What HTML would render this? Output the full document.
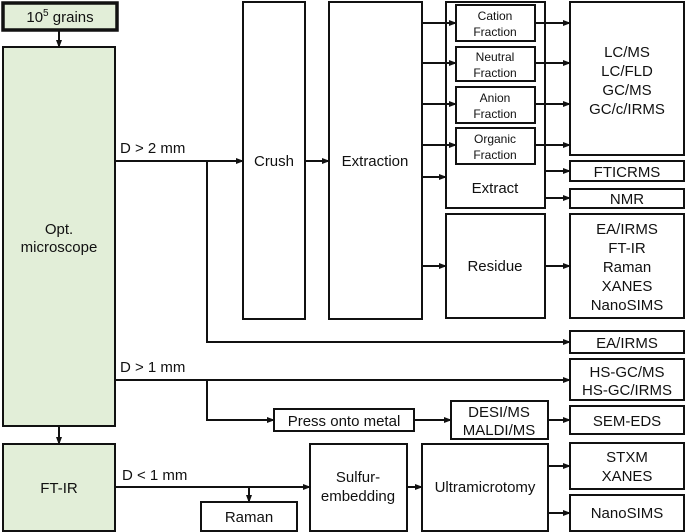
<!DOCTYPE html>
<html><head><meta charset="utf-8"><style>
html,body{margin:0;padding:0;background:#fff}
svg{display:block}
text{font-family:"Liberation Sans",Arial,sans-serif;fill:#111;text-anchor:middle}
</style></head><body>
<svg width="685" height="532" viewBox="0 0 685 532" xmlns="http://www.w3.org/2000/svg">
<defs><marker id="a" markerWidth="8" markerHeight="8" refX="7" refY="4" orient="auto" markerUnits="userSpaceOnUse"><path d="M0,1 L8,4 L0,7 z" fill="#111"/></marker></defs>
<g fill="none" stroke="#111" stroke-width="2">
<rect x="3" y="3" width="114" height="27" fill="#e2eed8" stroke-width="3.5"/>
<rect x="3" y="47" width="112" height="379" fill="#e2eed8"/>
<rect x="3" y="444" width="112" height="87" fill="#e2eed8"/>
<rect x="243" y="2" width="62" height="317"/>
<rect x="329" y="2" width="93" height="317"/>
<rect x="446" y="2" width="99" height="206"/>
<rect x="456" y="5" width="79" height="36"/>
<rect x="456" y="47" width="79" height="34"/>
<rect x="456" y="87" width="79" height="36"/>
<rect x="456" y="128" width="79" height="36"/>
<rect x="446" y="214" width="99" height="104"/>
<rect x="570" y="2" width="114" height="153"/>
<rect x="570" y="161" width="114" height="20"/>
<rect x="570" y="189" width="114" height="19"/>
<rect x="570" y="214" width="114" height="104"/>
<rect x="570" y="331" width="114" height="22"/>
<rect x="570" y="359" width="114" height="41"/>
<rect x="570" y="406" width="114" height="28"/>
<rect x="570" y="443" width="114" height="46"/>
<rect x="570" y="495" width="114" height="36"/>
<rect x="274" y="409" width="140" height="22"/>
<rect x="451" y="401" width="97" height="38"/>
<rect x="310" y="444" width="97" height="87"/>
<rect x="422" y="444" width="126" height="87"/>
<rect x="201" y="502" width="96" height="29"/>
</g>
<g fill="none" stroke="#111" stroke-width="2" marker-end="url(#a)">
<line x1="59" y1="30" x2="59" y2="47"/>
<line x1="59" y1="426" x2="59" y2="444"/>
<line x1="115" y1="161" x2="243" y2="161"/>
<line x1="305" y1="161" x2="329" y2="161"/>
<path d="M207,161 V342 H570"/>
<line x1="422" y1="23" x2="456" y2="23"/>
<line x1="422" y1="63" x2="456" y2="63"/>
<line x1="422" y1="104" x2="456" y2="104"/>
<line x1="422" y1="145" x2="456" y2="145"/>
<line x1="422" y1="177" x2="446" y2="177"/>
<line x1="422" y1="266" x2="446" y2="266"/>
<line x1="535" y1="23" x2="570" y2="23"/>
<line x1="535" y1="63" x2="570" y2="63"/>
<line x1="535" y1="104" x2="570" y2="104"/>
<line x1="535" y1="145" x2="570" y2="145"/>
<line x1="545" y1="171" x2="570" y2="171"/>
<line x1="545" y1="198" x2="570" y2="198"/>
<line x1="545" y1="266" x2="570" y2="266"/>
<line x1="115" y1="380" x2="570" y2="380"/>
<path d="M207,380 V420 H274"/>
<line x1="414" y1="420" x2="451" y2="420"/>
<line x1="548" y1="420" x2="570" y2="420"/>
<line x1="115" y1="487" x2="310" y2="487"/>
<line x1="249" y1="487" x2="249" y2="502"/>
<line x1="407" y1="487" x2="422" y2="487"/>
<line x1="548" y1="466" x2="570" y2="466"/>
<line x1="548" y1="513" x2="570" y2="513"/>
</g>
<g font-size="15">
<text x="60" y="22">10<tspan font-size="10" dy="-6">5</tspan><tspan dy="6"> grains</tspan></text>
<text x="59" y="234">Opt.</text>
<text x="59" y="252">microscope</text>
<text x="59" y="493">FT-IR</text>
<text x="274" y="166">Crush</text>
<text x="375" y="166">Extraction</text>
<text x="495" y="193">Extract</text>
<text x="495" y="271">Residue</text>
<text x="627" y="57">LC/MS</text>
<text x="627" y="76">LC/FLD</text>
<text x="627" y="95">GC/MS</text>
<text x="627" y="114">GC/c/IRMS</text>
<text x="627" y="177">FTICRMS</text>
<text x="627" y="204">NMR</text>
<text x="627" y="234">EA/IRMS</text>
<text x="627" y="253">FT-IR</text>
<text x="627" y="272">Raman</text>
<text x="627" y="291">XANES</text>
<text x="627" y="310">NanoSIMS</text>
<text x="627" y="348">EA/IRMS</text>
<text x="627" y="377">HS-GC/MS</text>
<text x="627" y="395">HS-GC/IRMS</text>
<text x="627" y="426">SEM-EDS</text>
<text x="627" y="462">STXM</text>
<text x="627" y="481">XANES</text>
<text x="627" y="518">NanoSIMS</text>
<text x="344" y="426">Press onto metal</text>
<text x="499" y="417">DESI/MS</text>
<text x="499" y="435">MALDI/MS</text>
<text x="358" y="482">Sulfur-</text>
<text x="358" y="501">embedding</text>
<text x="485" y="492">Ultramicrotomy</text>
<text x="249" y="522">Raman</text>
<text x="120" y="153" text-anchor="start" style="text-anchor:start">D &gt; 2 mm</text>
<text x="120" y="372" style="text-anchor:start">D &gt; 1 mm</text>
<text x="122" y="480" style="text-anchor:start">D &lt; 1 mm</text>
</g>
<g font-size="12">
<text x="495" y="20">Cation</text><text x="495" y="36">Fraction</text>
<text x="495" y="61">Neutral</text><text x="495" y="77">Fraction</text>
<text x="495" y="102">Anion</text><text x="495" y="118">Fraction</text>
<text x="495" y="143">Organic</text><text x="495" y="159">Fraction</text>
</g>
</svg>
</body></html>
